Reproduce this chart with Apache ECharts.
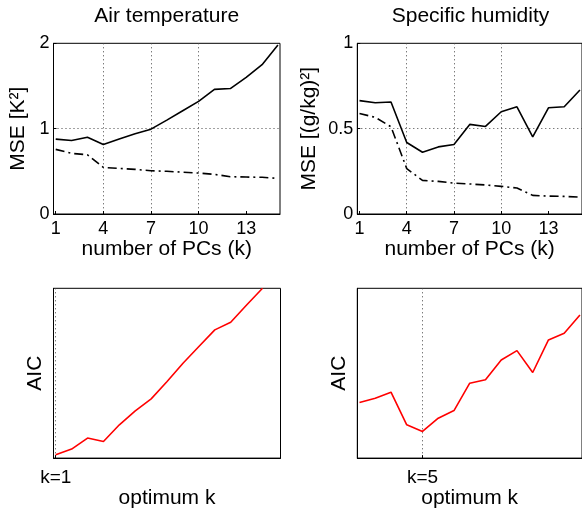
<!DOCTYPE html>
<html>
<head>
<meta charset="utf-8">
<script src="https://cdn.jsdelivr.net/npm/echarts@6/dist/echarts.min.js"></script>
<style>
  html, body { margin: 0; padding: 0; background: #fff; }
  #chart { width: 582px; height: 510px; }
</style>
</head>
<body>
<div id="chart"></div>
<script>
// number of PCs (k)
var kValues = [1, 2, 3, 4, 5, 6, 7, 8, 9, 10, 11, 12, 13, 14, 15];
var kTicks = [1, 4, 7, 10, 13];

// MSE, air temperature [K^2]
var tempSolid   = [0.877, 0.862, 0.90, 0.815, 0.88, 0.94, 0.994, 1.10, 1.21, 1.32, 1.46, 1.47, 1.60, 1.75, 1.98];
var tempDashDot = [0.757, 0.71, 0.694, 0.546, 0.534, 0.523, 0.507, 0.50, 0.49, 0.48, 0.464, 0.437, 0.433, 0.43, 0.417];

// MSE, specific humidity [(g/kg)^2]
var humSolid   = [0.664, 0.652, 0.656, 0.419, 0.362, 0.393, 0.407, 0.525, 0.513, 0.599, 0.628, 0.452, 0.622, 0.628, 0.726];
var humDashDot = [0.589, 0.566, 0.511, 0.266, 0.197, 0.191, 0.181, 0.176, 0.17, 0.162, 0.152, 0.109, 0.105, 0.103, 0.099];

// AIC (arbitrary units, 0..100 = axis range)
var aicTemp = [1.96, 5.3, 11.8, 9.8, 19.6, 27.8, 34.9, 45.1, 55.9, 65.7, 75.5, 80, 90.2, 100];
var aicHum  = [32.7, 35.3, 38.8, 19.6, 15.7, 23.5, 28, 44.1, 46.1, 57.8, 63.3, 50.4, 69.6, 73.5, 84.3];

var optimumTemp = 1;
var optimumHum = 5;

var FONT = 'Liberation Sans, Arial, Helvetica, sans-serif';

function pairs(vals) {
  return vals.map(function(v, i) { return [kValues[i], v]; });
}

var gridBox = { show: true, borderColor: '#000', borderWidth: 1, backgroundColor: 'transparent' };
var dotted = { color: '#444', width: 1, type: [1, 3] };

function topX(idx) {
  return {
    type: 'value', gridIndex: idx, min: 0.86, max: 15.13,
    name: 'number of PCs (k)', nameLocation: 'middle', nameGap: 19,
    nameTextStyle: { fontFamily: FONT, fontSize: 21, color: '#000' },
    axisLine: { show: true, lineStyle: { color: '#000', width: 1 } },
    axisTick: { show: true, inside: true, length: 3, customValues: kTicks, lineStyle: { color: '#000' } },
    axisLabel: { customValues: kTicks, margin: 6, fontFamily: FONT, fontSize: 18, color: '#000' },
    splitLine: { show: true, showMinLine: false, showMaxLine: false, lineStyle: dotted }
  };
}

function topY(idx, max, step, name, gap) {
  return {
    type: 'value', gridIndex: idx, min: 0, max: max, interval: step,
    name: name, nameLocation: 'middle', nameGap: gap,
    nameTextStyle: { fontFamily: FONT, fontSize: 21, color: '#000' },
    axisLine: { show: true, lineStyle: { color: '#000', width: 1 } },
    axisTick: { show: true, inside: true, length: 3, lineStyle: { color: '#000' } },
    axisLabel: { margin: 4, fontFamily: FONT, fontSize: 18, color: '#000' },
    splitLine: { show: true, showMinLine: false, showMaxLine: false, lineStyle: dotted }
  };
}

function bottomX(idx, kOpt) {
  return {
    type: 'value', gridIndex: idx, min: 0.86, max: 15.13,
    name: 'optimum k', nameLocation: 'middle', nameGap: 29,
    nameTextStyle: { fontFamily: FONT, fontSize: 21, color: '#000' },
    axisLine: { show: true, lineStyle: { color: '#000', width: 1 } },
    axisTick: { show: true, inside: true, length: 3, customValues: [kOpt], lineStyle: { color: '#000' } },
    axisLabel: {
      customValues: [kOpt], margin: 10, fontFamily: FONT, fontSize: 19, color: '#000',
      formatter: function(v) { return 'k=' + v; }
    },
    splitLine: { show: true, lineStyle: dotted }
  };
}

function bottomY(idx) {
  return {
    type: 'value', gridIndex: idx, min: 0, max: 100,
    name: 'AIC', nameLocation: 'middle', nameGap: 8,
    nameTextStyle: { fontFamily: FONT, fontSize: 21, color: '#000' },
    axisLine: { show: true, lineStyle: { color: '#000', width: 1 } },
    axisTick: { show: false },
    axisLabel: { show: false },
    splitLine: { show: false }
  };
}

function line(idx, vals, color, type) {
  return {
    type: 'line', xAxisIndex: idx, yAxisIndex: idx,
    data: pairs(vals), symbol: 'none', silent: true,
    lineStyle: { color: color, width: 1.6, type: type }
  };
}

var chart = echarts.init(document.getElementById('chart'), null, { renderer: 'canvas' });

var option = {
  animation: false,
  backgroundColor: '#fff',
  title: [
    { text: 'Air temperature', left: 166.7, top: 6, textAlign: 'center', padding: 0,
      textStyle: { fontFamily: FONT, fontSize: 21, fontWeight: 'normal', color: '#000' } },
    { text: 'Specific humidity', left: 470.5, top: 6, textAlign: 'center', padding: 0,
      textStyle: { fontFamily: FONT, fontSize: 21, fontWeight: 'normal', color: '#000' } }
  ],
  grid: [
    Object.assign({ left: 53.5, top: 43.3, width: 226.5, height: 170.7 }, gridBox),
    Object.assign({ left: 357.3, top: 43.3, width: 226.5, height: 170.7 }, gridBox),
    Object.assign({ left: 53.5, top: 288.3, width: 227, height: 170 }, gridBox),
    Object.assign({ left: 357.3, top: 288.3, width: 226.5, height: 170 }, gridBox)
  ],
  xAxis: [topX(0), topX(1), bottomX(2, optimumTemp), bottomX(3, optimumHum)],
  yAxis: [
    topY(0, 2, 1, 'MSE [K\u00b2]', 25),
    topY(1, 1, 0.5, 'MSE [(g/kg)\u00b2]', 38),
    bottomY(2),
    bottomY(3)
  ],
  series: [
    line(0, tempSolid, '#000', 'solid'),
    line(0, tempDashDot, '#000', [9, 4, 2, 4]),
    line(1, humSolid, '#000', 'solid'),
    line(1, humDashDot, '#000', [9, 4, 2, 4]),
    line(2, aicTemp, '#ff0000', 'solid'),
    line(3, aicHum, '#ff0000', 'solid')
  ]
};

chart.setOption(option);
</script>
</body>
</html>
